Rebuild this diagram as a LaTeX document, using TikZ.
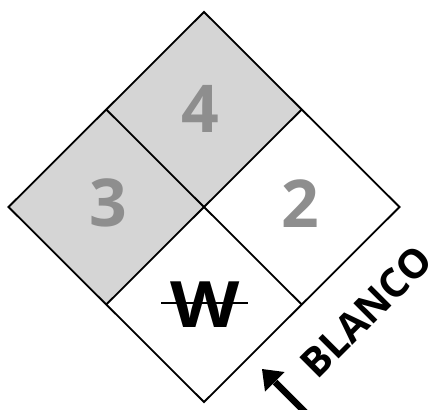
\documentclass[tikz,border=0pt]{standalone}
\usepackage{fontspec}
\usetikzlibrary{calc}
\setmainfont{Open Sans}
\begin{document}
\begin{tikzpicture}[x=1pt,y=-1pt,
  edge/.style={line width=1.8pt,line join=miter},
  panel/.style={fill=panelgray},
  digit/.style={text=digitgray,font=\fontsize{66}{66}\selectfont\bfseries,inner sep=0pt},
]
\definecolor{panelgray}{RGB}{213,213,213}
\definecolor{digitgray}{RGB}{142,142,142}
\useasboundingbox (0,0) rectangle (441,409);
% vertices
\coordinate (T) at (204,12);
\coordinate (L) at (8.5,207);
\coordinate (R) at (399.5,207);
\coordinate (B) at (204,402);
\coordinate (C) at (204,207);
\coordinate (UL) at ($(T)!0.5!(L)$);
\coordinate (UR) at ($(T)!0.5!(R)$);
\coordinate (LL) at ($(B)!0.5!(L)$);
\coordinate (LR) at ($(B)!0.5!(R)$);
% gray panels
\fill[panel] (T) -- (UR) -- (C) -- (UL) -- cycle;
\fill[panel] (UL) -- (C) -- (LL) -- (L) -- cycle;
% outline and dividers
\draw[edge] (T) -- (R) -- (B) -- (L) -- cycle;
\draw[edge] (UL) -- (LR);
\draw[edge] (UR) -- (LL);
% numbers
\node[digit] (n4) at (200,109) {4};
\node[digit] (n3) at (108,203) {3};
\node[digit] (n2) at (300,204) {2};
% W with strike
\node[font=\fontsize{64}{64}\selectfont\bfseries,inner sep=0pt,xscale=1.12] (w) at (205,305) {W};
\coordinate (s1) at (161,303);
\coordinate (s2) at (248,303);
\draw[line width=2.6pt] (s1) -- (s2);
% BLANCO
\node[font=\fontsize{40}{40}\selectfont\bfseries,rotate=45,anchor=base west,inner sep=0pt] (blanco) at (317,381) {BLANCO};
% arrow
\coordinate (tip) at (262,369);
\coordinate (h1) at (284.5,372);
\coordinate (h2) at (265,391.5);
\coordinate (tail) at (310,417);
\coordinate (hb) at (275,382);
\draw[line width=6.5pt] (tail) -- (hb);
\fill (tip) -- (h1) -- (h2) -- cycle;
\end{tikzpicture}
\end{document}
